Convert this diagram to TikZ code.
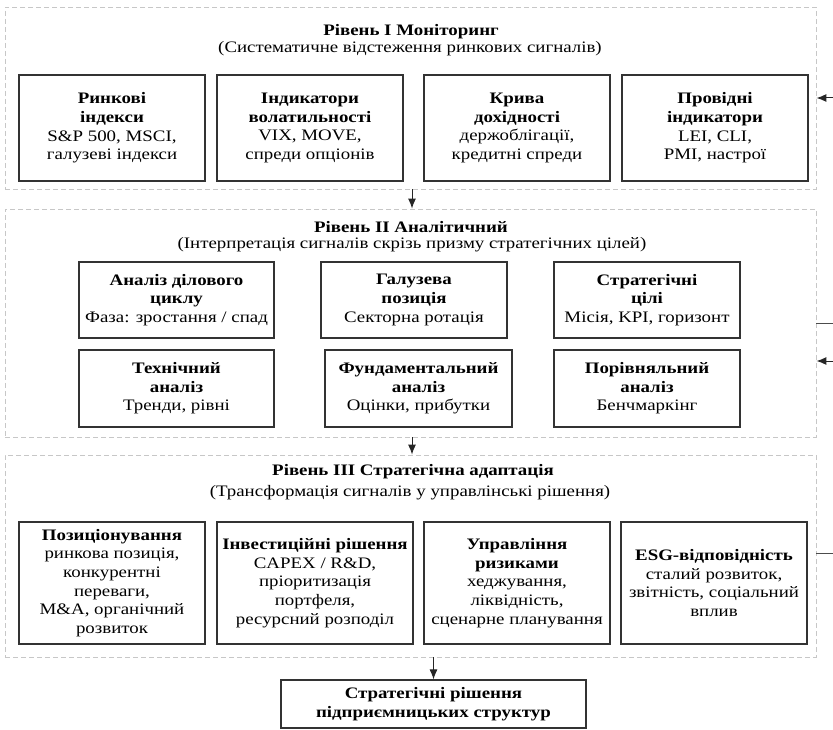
\documentclass[tikz,border=0pt]{standalone}
\usepackage{fontspec}
\setmainfont[FakeStretch=1.18]{Liberation Serif}
\usetikzlibrary{arrows.meta}
\begin{document}
\begin{tikzpicture}[x=1pt,y=-1pt,
  frame/.style={draw=black!22, dash pattern=on 5pt off 3pt, line width=0.9pt, inner sep=0pt},
  box/.style={draw=black!80, line width=1.2pt, align=center, inner sep=0pt, font=\fontsize{16}{18.6}\selectfont},
  ttl/.style={align=center, inner sep=0pt, font=\fontsize{16}{18.6}\selectfont\bfseries},
  sub/.style={align=center, inner sep=0pt, font=\fontsize{16}{18.6}\selectfont},
  arr/.style={draw=black!85, line width=1pt, -{Latex[length=10pt,width=8pt]}},
  ln/.style={draw=black!70, line width=1pt}]
\useasboundingbox (0,0) rectangle (833,730);
\fill[white] (0,0) rectangle (833,730);

% ---------- frames ----------
\node[frame, minimum width=811pt, minimum height=182pt] (f1) at (410.5,98) {};
\node[frame, minimum width=811pt, minimum height=228pt] (f2) at (410.5,323) {};
\node[frame, minimum width=811pt, minimum height=202pt] (f3) at (410.5,556) {};

% ---------- level I ----------
\node[ttl] (t1) at (411,32) {Рівень I Моніторинг};
\node[sub] (s1) at (410,49) {(Систематичне відстеження ринкових сигналів)};

\node[box, minimum width=186pt, minimum height=106pt] (b11) at (112,128)
  {\textbf{Ринкові}\\\textbf{індекси}\\S\&P 500, MSCI,\\галузеві індекси};
\node[box, minimum width=186pt, minimum height=106pt] (b12) at (310,128)
  {\textbf{Індикатори}\\\textbf{волатильності}\\VIX, MOVE,\\спреди опціонів};
\node[box, minimum width=186pt, minimum height=106pt] (b13) at (517,128)
  {\textbf{Крива}\\\textbf{дохідності}\\держоблігації,\\кредитні спреди};
\node[box, minimum width=186pt, minimum height=106pt] (b14) at (715,128)
  {\textbf{Провідні}\\\textbf{індикатори}\\LEI, CLI,\\PMI, настрої};

% ---------- level II ----------
\node[ttl] (t2) at (411,227) {Рівень II Аналітичний};
\node[sub] (s2) at (412,245) {(Інтерпретація сигналів скрізь призму стратегічних цілей)};

\node[box, minimum width=195pt, minimum height=76pt] (b21) at (176.5,300)
  {\textbf{Аналіз ділового}\\\textbf{циклу}\\Фаза: зростання / спад};
\node[box, minimum width=186pt, minimum height=76pt] (b22) at (414,300)
  {\textbf{Галузева}\\\textbf{позиція}\\Секторна ротація};
\node[box, minimum width=186pt, minimum height=76pt] (b23) at (647,300)
  {\textbf{Стратегічні}\\\textbf{цілі}\\Місія, KPI, горизонт};
\node[box, minimum width=195pt, minimum height=77pt] (b24) at (176.5,388.5)
  {\textbf{Технічний}\\\textbf{аналіз}\\Тренди, рівні};
\node[box, minimum width=187pt, minimum height=77pt] (b25) at (418.5,388.5)
  {\textbf{Фундаментальний}\\\textbf{аналіз}\\Оцінки, прибутки};
\node[box, minimum width=186pt, minimum height=77pt] (b26) at (647,388.5)
  {\textbf{Порівняльний}\\\textbf{аналіз}\\Бенчмаркінг};

% ---------- level III ----------
\node[ttl] (t3) at (413,472) {Рівень III Стратегічна адаптація};
\node[sub] (s3) at (410,493) {(Трансформація сигналів у управлінські рішення)};

\node[box, minimum width=186pt, minimum height=122pt] (b31) at (112,583)
  {\textbf{Позиціонування}\\ринкова позиція,\\конкурентні\\переваги,\\M\&A, органічний\\розвиток};
\node[box, minimum width=196pt, minimum height=122pt] (b32) at (315,583)
  {\textbf{Інвестиційні рішення}\\CAPEX / R\&D,\\пріоритизація\\портфеля,\\ресурсний розподіл};
\node[box, minimum width=186pt, minimum height=122pt] (b33) at (517,583)
  {\textbf{Управління}\\\textbf{ризиками}\\хеджування,\\ліквідність,\\сценарне планування};
\node[box, minimum width=186pt, minimum height=122pt] (b34) at (714,583)
  {\textbf{ESG-відповідність}\\сталий розвиток,\\звітність, соціальний\\вплив};

% ---------- final ----------
\node[box, minimum width=305pt, minimum height=48pt, font=\fontsize{16}{18.6}\selectfont\bfseries] (fin) at (433.5,704)
  {Стратегічні рішення\\підприємницьких структур};

% ---------- connectors ----------
\draw[arr] (f1.south -| 412,0) -- (f2.north -| 412,0);
\draw[arr] (f2.south -| 412,0) -- (f3.north -| 412,0);
\draw[arr] (f3.south -| fin.north) -- (fin.north);

% feedback stubs at right edge
\coordinate (e1) at (833,98);
\coordinate (e2) at (833,323);
\coordinate (e3) at (833,361);
\coordinate (e4) at (833,553);
\draw[arr] (e1) -- (e1 -| f1.east);
\draw[ln] (e2 -| f2.east) -- (e2);
\draw[arr] (e3) -- (e3 -| f2.east);
\draw[ln] (e4 -| f3.east) -- (e4);
\end{tikzpicture}
\end{document}
